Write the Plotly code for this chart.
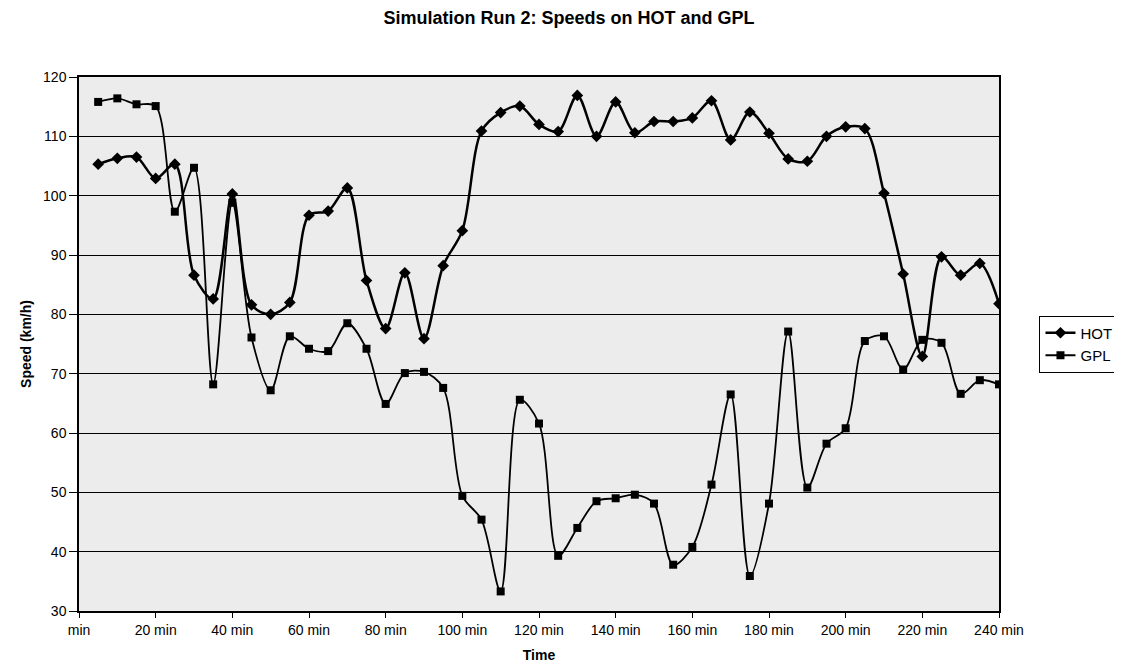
import plotly.graph_objects as go

minutes = list(range(5, 245, 5))
hot = [105.3, 106.3, 106.5, 102.9, 105.3, 86.6, 82.6, 100.3, 81.6, 80.0,
       82.0, 96.7, 97.4, 101.3, 85.7, 77.6, 87.0, 75.9, 88.2, 94.1,
       110.9, 114.0, 115.1, 112.0, 110.8, 116.9, 110.0, 115.8, 110.6, 112.5,
       112.5, 113.1, 116.0, 109.4, 114.1, 110.5, 106.2, 105.8, 110.0, 111.6,
       111.3, 100.4, 86.8, 72.9, 89.7, 86.6, 88.6, 81.8]
gpl = [115.8, 116.4, 115.4, 115.1, 97.3, 104.7, 68.2, 98.8, 76.1, 67.2,
       76.3, 74.2, 73.8, 78.5, 74.2, 64.9, 70.1, 70.3, 67.6, 49.4,
       45.4, 33.3, 65.6, 61.6, 39.3, 44.0, 48.5, 49.0, 49.6, 48.1,
       37.8, 40.8, 51.3, 66.5, 35.9, 48.1, 77.1, 50.8, 58.2, 60.8,
       75.5, 76.3, 70.7, 75.7, 75.2, 66.6, 68.9, 68.2]
tick_vals = list(range(0, 241, 20))
tick_text = ["min"] + [f"{v} min" for v in tick_vals[1:]]

fig = go.Figure()
fig.add_trace(go.Scatter(
    x=minutes, y=hot, name="HOT", mode="lines+markers",
    line=dict(color="black", width=2.5, shape="spline", smoothing=0.9),
    marker=dict(symbol="diamond", size=9, color="black")))
fig.add_trace(go.Scatter(
    x=minutes, y=gpl, name="GPL", mode="lines+markers",
    line=dict(color="black", width=1.8, shape="spline", smoothing=0.9),
    marker=dict(symbol="square", size=8, color="black")))

font = "Liberation Sans, Arial, sans-serif"
fig.update_layout(
    width=1122, height=666,
    margin=dict(l=71, r=125, t=69, b=63),
    paper_bgcolor="white", plot_bgcolor="#ececec",
    font=dict(family=font, size=14, color="black"),
    title=dict(text="<b>Simulation Run 2: Speeds on HOT and GPL</b>",
               x=0.5, xanchor="center", y=0.985, yanchor="middle",
               font=dict(size=18, family=font, color="black")),
    legend=dict(x=1.044, xanchor="left", y=0.5, yanchor="middle",
                bordercolor="black", borderwidth=1, bgcolor="white",
                font=dict(size=15), tracegroupgap=0, itemwidth=30),
    showlegend=True,
)
fig.update_xaxes(
    range=[0, 240], tickmode="array", tickvals=tick_vals, ticktext=tick_text,
    showgrid=False, showline=True, linecolor="black", linewidth=1.5,
    mirror=True, ticks="outside", ticklen=5, tickcolor="black",
    tickfont=dict(size=14), zeroline=False,
    title=dict(text="<b>Time</b>", font=dict(size=14), standoff=14))
fig.update_yaxes(
    range=[30, 120], dtick=10, showgrid=True, gridcolor="black", gridwidth=1,
    showline=True, linecolor="black", linewidth=1.5, mirror=True,
    ticks="outside", ticklen=8, tickcolor="black", tickfont=dict(size=14),
    zeroline=False,
    title=dict(text="<b>Speed (km/h)</b>", font=dict(size=14), standoff=8))

fig.write_html("out.html")
